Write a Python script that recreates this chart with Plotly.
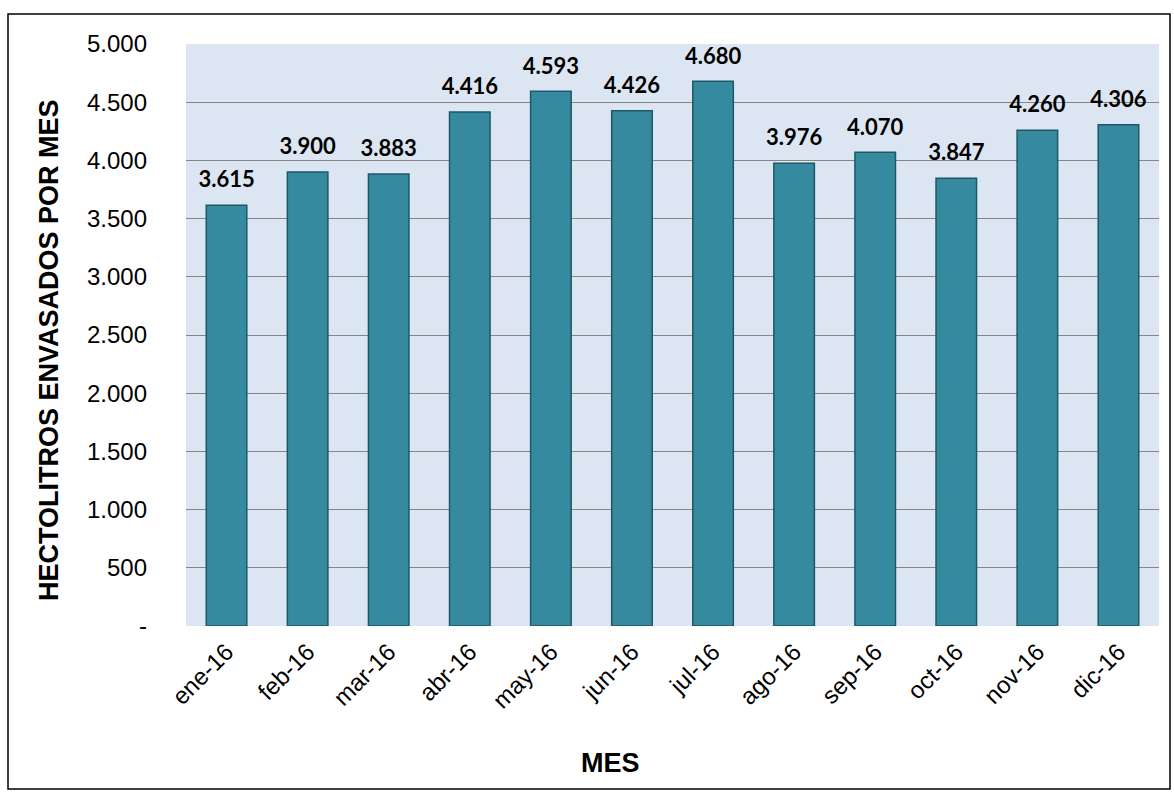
import plotly.graph_objects as go

months = ["ene-16", "feb-16", "mar-16", "abr-16", "may-16", "jun-16",
          "jul-16", "ago-16", "sep-16", "oct-16", "nov-16", "dic-16"]
hectolitros = [3615, 3900, 3883, 4416, 4593, 4426, 4680, 3976, 4070, 3847, 4260, 4306]
bar_labels = ["3.615", "3.900", "3.883", "4.416", "4.593", "4.426",
              "4.680", "3.976", "4.070", "3.847", "4.260", "4.306"]
y_tickvals = [0, 500, 1000, 1500, 2000, 2500, 3000, 3500, 4000, 4500, 5000]
y_ticktext = ["-", "500", "1.000", "1.500", "2.000", "2.500", "3.000",
              "3.500", "4.000", "4.500", "5.000"]

fig = go.Figure()
fig.add_trace(go.Bar(
    x=months, y=hectolitros,
    marker=dict(color="#368a9f", line=dict(color="#1d5868", width=1.5)),
    hoverinfo="skip",
))
fig.add_trace(go.Scatter(
    x=months, y=hectolitros, mode="markers+text",
    marker=dict(size=18, color="rgba(0,0,0,0)"),
    text=bar_labels, textposition="top center", cliponaxis=False,
    textfont=dict(family="Lato", size=22, color="#000000", weight="bold"),
    hoverinfo="skip",
))

fig.update_layout(
    width=1174, height=792,
    margin=dict(l=186, r=15, t=44, b=166),
    paper_bgcolor="white", plot_bgcolor="#dce6f2",
    bargap=0.5, showlegend=False,
    font=dict(family="Liberation Sans, Arial", color="#000000"),
    shapes=[dict(type="rect", xref="paper", yref="paper",
                 x0=-178/973, x1=(1170 - 186)/973, y0=-163/582, y1=(792 - 14 - 166) / 582,
                 line=dict(color="#000000", width=1.5), fillcolor="rgba(0,0,0,0)", layer="below")],
    annotations=[
        dict(text="<b>HECTOLITROS ENVASADOS POR MES</b>", xref="paper", yref="paper",
             x=(49 - 186) / 973, y=(626 - 350) / 582, textangle=-90, showarrow=False,
             xanchor="center", yanchor="middle",
             font=dict(size=27, family="Liberation Sans, Arial")),
        dict(text="<b>MES</b>", xref="paper", yref="paper",
             x=(610 - 186) / 973, y=-(763 - 626) / 582, showarrow=False,
             xanchor="center", yanchor="middle",
             font=dict(size=27, family="Liberation Sans, Arial")),
    ],
)
fig.update_xaxes(tickangle=-45, tickfont=dict(size=24), showline=False,
                 range=[-0.5, len(months) - 0.5],
                 ticks="", ticklabelstandoff=6, automargin=False)
fig.update_yaxes(range=[0, 5000], tickvals=y_tickvals, ticktext=y_ticktext,
                 showgrid=True, gridcolor="#868686", gridwidth=1.3, zeroline=False,
                 tickfont=dict(size=24), ticklabelstandoff=38, automargin=False)

fig.write_html("out.html")
